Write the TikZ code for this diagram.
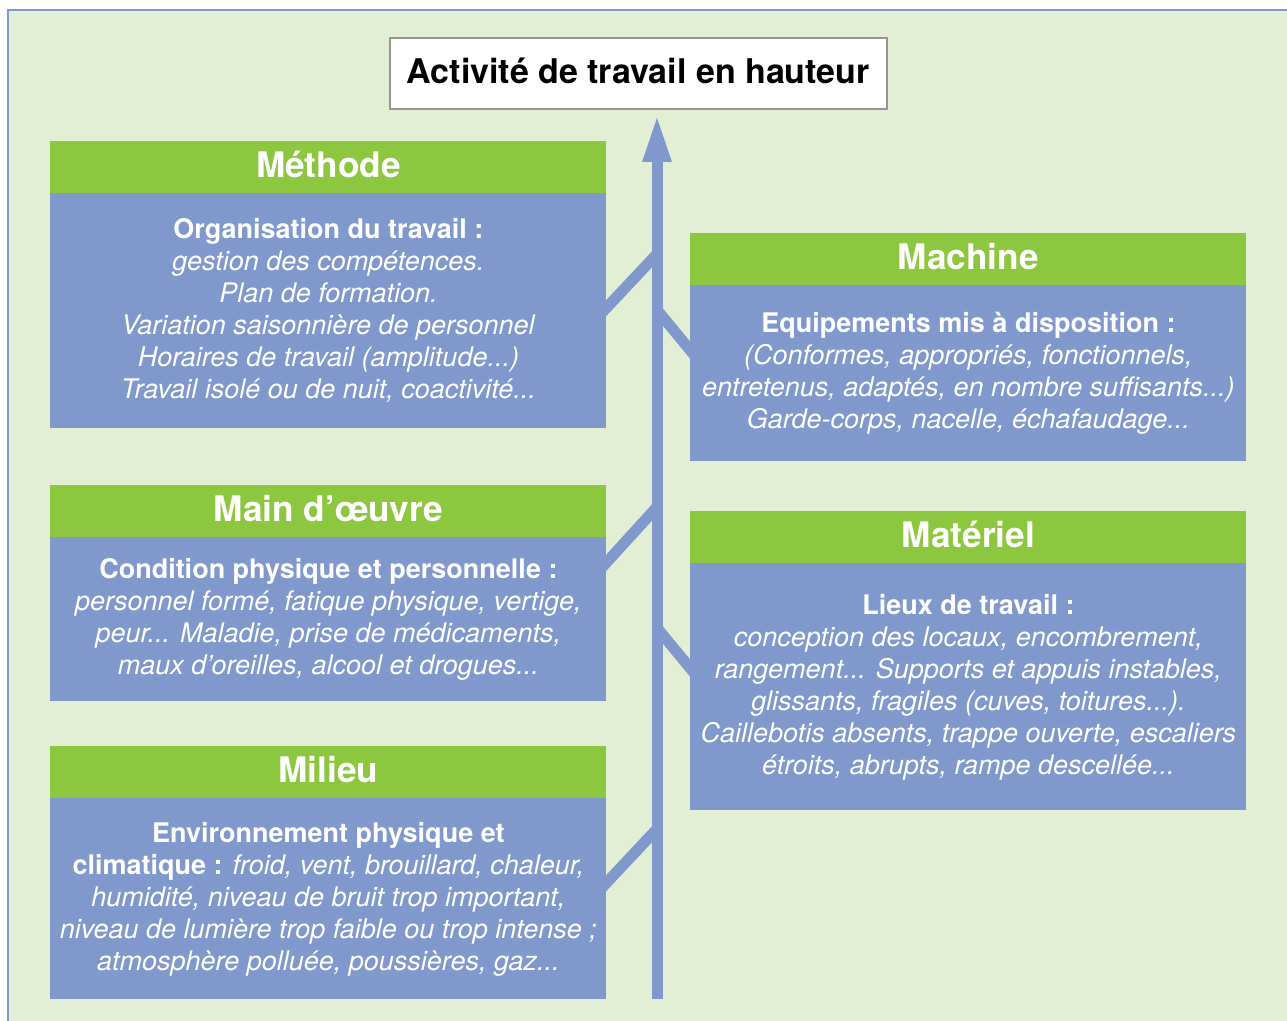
\documentclass[tikz,border=0pt]{standalone}
\usepackage{fontspec}
\setmainfont{TeX Gyre Heros}
\usetikzlibrary{arrows.meta}
\definecolor{bggreen}{RGB}{226,239,213}
\definecolor{hdgreen}{RGB}{141,198,63}
\definecolor{bodyblue}{RGB}{128,152,203}
\definecolor{framegray}{RGB}{150,150,150}
\tikzset{
  hdr/.style={fill=hdgreen, text=white, font=\fontsize{17.6}{20}\selectfont\bfseries,
    minimum width=278pt, minimum height=26pt, inner sep=0pt, anchor=north west,
    text height=13pt, text depth=3pt},
  bodybox/.style={fill=bodyblue, text=white, font=\fontsize{13.5}{16}\selectfont,
    minimum width=278pt, inner sep=0pt, align=center, anchor=north west},
  branch/.style={draw=bodyblue, line width=5.5pt},
  stem/.style={draw=bodyblue, line width=5.5pt, -{Triangle[width=13pt,length=24pt]}},
}
\begin{document}
\begin{tikzpicture}[x=0.5pt,y=-0.5pt]
\useasboundingbox (0,0) rectangle (1287,1021);
% background
\fill[bggreen] (8,10) rectangle (1287,1021);
\draw[bodyblue, line width=1.2pt] (8,1021) -- (8,10) -- (1287,10);
% stem and branch coordinates
\coordinate (sb) at (657,999);
\coordinate (st) at (657,114);
\coordinate (j1) at (657,254);
\coordinate (j2) at (657,310);
\coordinate (j3) at (657,507);
\coordinate (j4) at (657,628);
\coordinate (j5) at (657,829);
\coordinate (e1) at (596,319);
\coordinate (e2) at (700,362);
\coordinate (e3) at (596,574);
\coordinate (e4) at (700,680);
\coordinate (e5) at (596,894);
% branches
\draw[branch] (e1) -- (j1);
\draw[branch] (j2) -- (e2);
\draw[branch] (e3) -- (j3);
\draw[branch] (j4) -- (e4);
\draw[branch] (e5) -- (j5);
% stem
\draw[stem] (sb) -- (st);
% title
\node[draw=framegray, line width=0.8pt, fill=white, minimum width=248.5pt, minimum height=35.5pt,
  inner sep=0pt, anchor=north west, font=\fontsize{17}{20}\selectfont\bfseries,
  text height=13.5pt, text depth=3.5pt] (title) at (389,37)
  {Activité de travail en hauteur};
% Methode
\node[hdr] (mh) at (50,141) {Méthode};
\node[bodybox, minimum height=117.5pt] (mb) at (50,193) {%
  \textbf{Organisation du travail :}\\
  \textit{gestion des compétences.}\\
  \textit{Plan de formation.}\\
  \textit{Variation saisonnière de personnel}\\
  \textit{Horaires de travail (amplitude...)}\\
  \textit{Travail isolé ou de nuit, coactivité...}};
% Machine
\node[hdr] (ch) at (690,233) {Machine};
\node[bodybox, minimum height=88pt] (cb) at (690,285) {%
  \textbf{Equipements mis à disposition :}\\
  \textit{(Conformes, appropriés, fonctionnels,}\\
  \textit{entretenus, adaptés, en nombre suffisants...)}\\
  \textit{Garde-corps, nacelle, échafaudage...}};
% Main d'oeuvre
\node[hdr] (oh) at (50,485) {Main d’œuvre};
\node[bodybox, minimum height=82pt] (ob) at (50,537) {%
  \textbf{Condition physique et personnelle :}\\
  \textit{personnel formé, fatique physique, vertige,}\\
  \textit{peur... Maladie, prise de médicaments,}\\
  \textit{maux d’oreilles, alcool et drogues...}};
% Materiel
\node[hdr] (th) at (690,511) {Matériel};
\node[bodybox, minimum height=123.5pt] (tb) at (690,563) {%
  \textbf{Lieux de travail :}\\
  \textit{conception des locaux, encombrement,}\\
  \textit{rangement... Supports et appuis instables,}\\
  \textit{glissants, fragiles (cuves, toitures...).}\\
  \textit{Caillebotis absents, trappe ouverte, escaliers}\\
  \textit{étroits, abrupts, rampe descellée...}};
% Milieu
\node[hdr] (lh) at (50,746) {Milieu};
\node[bodybox, minimum height=100.5pt] (lb) at (50,798) {%
  \textbf{Environnement physique et}\\
  \textbf{climatique :} \textit{froid, vent, brouillard, chaleur,}\\
  \textit{humidité, niveau de bruit trop important,}\\
  \textit{niveau de lumière trop faible ou trop intense ;}\\
  \textit{atmosphère polluée, poussières, gaz...}};
\end{tikzpicture}
\end{document}
